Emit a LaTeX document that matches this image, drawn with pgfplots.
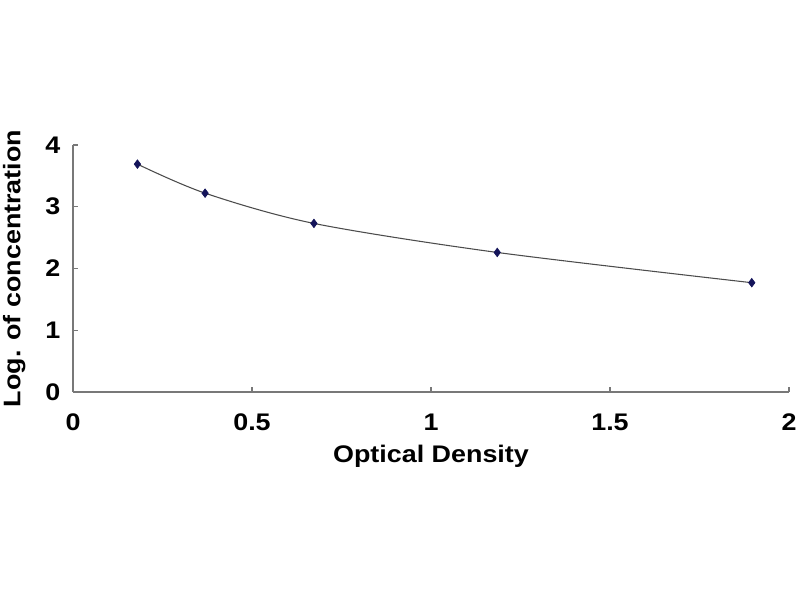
\documentclass[border=0pt]{standalone}
\usepackage{fontspec}
\setmainfont{Liberation Sans}[FakeStretch=1.12]
\usepackage{pgfplots}
\pgfplotsset{compat=1.18}
\definecolor{axgray}{RGB}{120,120,120}
\definecolor{marknavy}{RGB}{20,20,90}
\begin{document}
\begin{tikzpicture}[x=1pt,y=1pt]
\useasboundingbox (0,0) rectangle (600,450);
\begin{axis}[
    at={(54.75pt,156pt)}, anchor=origin,
    scale only axis,
    width=537pt, height=185.25pt,
    xmin=0, xmax=2, ymin=0, ymax=4,
    xtick={0,0.5,1,1.5,2},
    ytick={0,1,2,3,4},
    axis x line=bottom, axis y line=left,
    axis line style={axgray, line width=1.6pt, -},
    tick style={axgray, line width=1pt},
    tick align=inside,
    major tick length=4pt,
    xticklabel style={font=\fontsize{18}{19}\selectfont\bfseries, yshift=-13pt},
    yticklabel style={font=\fontsize{18}{19}\selectfont\bfseries, xshift=-6pt},
    /pgf/number format/assume math mode=true,
    xlabel={Optical Density},
    ylabel={Log. of concentration},
    label style={font=\fontsize{18}{19}\selectfont\bfseries},
    xlabel style={at={(axis description cs:0.5,0)}, anchor=center, yshift=-48pt},
    ylabel style={at={(axis description cs:0,0.5)}, anchor=center, rotate=0, yshift=44pt},
    clip=false,
]
\addplot[black!70, line width=0.8pt, smooth, mark=diamond*,
    mark options={marknavy, fill=marknavy, line width=0.5pt}, mark size=3.2pt]
    coordinates {
        (0.180,3.69)(0.369,3.22)(0.673,2.73)(1.185,2.26)(1.896,1.77)
    };
\end{axis}
\end{tikzpicture}
\end{document}
